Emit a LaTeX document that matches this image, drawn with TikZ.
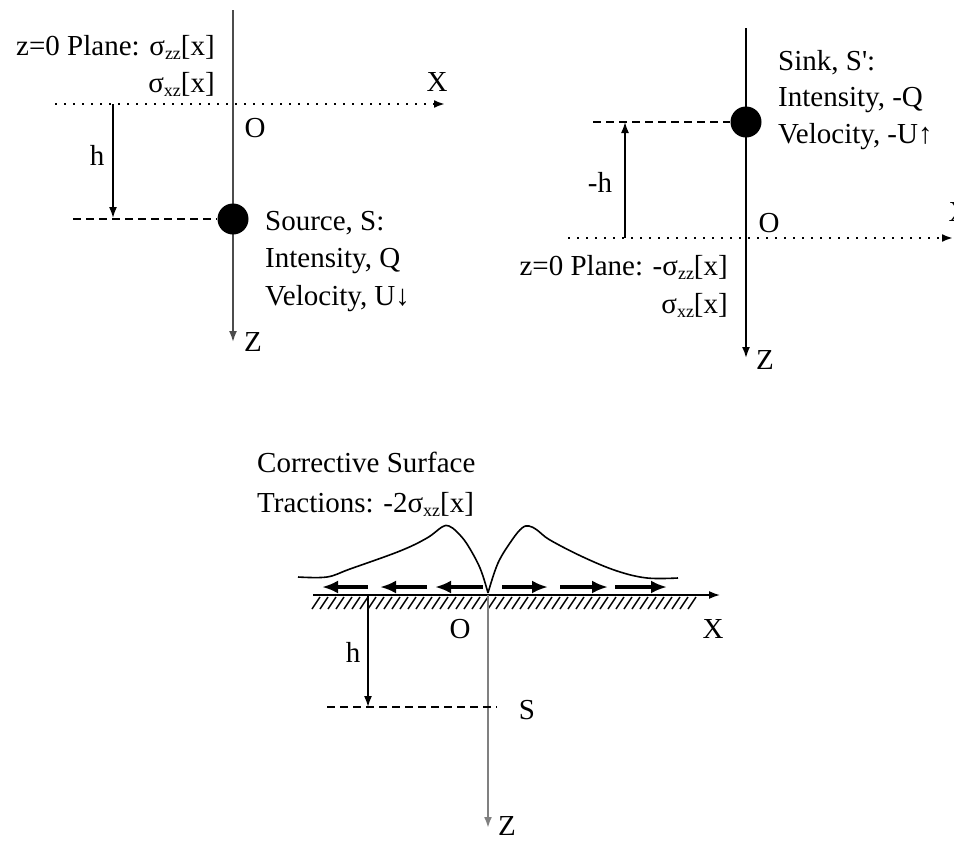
\documentclass[tikz,border=0pt]{standalone}
\usepackage{fontspec}
\setmainfont{Liberation Serif}
\newfontfamily\rawfont{Liberation Serif}
\usetikzlibrary{arrows.meta}
\newcommand\mysub[1]{\raisebox{-0.35ex}{\fontsize{18}{18}\selectfont #1}}
\begin{document}
\begin{tikzpicture}[x=1pt,y=-1pt,
 txt/.style={font=\fontsize{29}{37}\selectfont, inner sep=0pt},
 tip/.style={-{Latex[length=11pt,width=8pt]}},
 ax/.style={line width=1.8pt, draw=black!70, tip},
 dotax/.style={line width=2.6pt, dash pattern=on 2.4pt off 6.6pt, tip},
 dsh/.style={line width=1.4pt, dash pattern=on 8pt off 5pt},
 harrow/.style={line width=1.6pt, tip},
 dot/.style={circle, fill=black, minimum size=31pt, inner sep=0pt},
 trac/.style={line width=4pt, -{Latex[length=16pt,width=13pt]}},
 curve/.style={line width=1.6pt},
]
\useasboundingbox (0,0) rectangle (954,841);

% ---------- Panel 1 ----------
\coordinate (a1t) at (233,10);
\coordinate (a1b) at (233,342);
\coordinate (x1l) at (55,104);
\coordinate (x1r) at (445,104);
\coordinate (h1t) at (113,104);
\coordinate (h1b) at (113,218);
\coordinate (d1l) at (73,219);
\draw[ax] (a1t) -- (a1b);
\draw[dotax] (x1l) -- (x1r);
\node[dot] (src) at (233,219) {};
\draw[dsh] (d1l) -- (src.west);
\draw[harrow] (h1t) -- (h1b);
\node[txt, anchor=base east] (p1a) at (215,55) {z=0 Plane: σ\mysub{zz}[x]};
\node[txt, anchor=base east] (p1b) at (215,92) {σ\mysub{xz}[x]};
\node[txt] (p1X) at (437,82) {X};
\node[txt] (p1O) at (255,128) {O};
\node[txt] (p1h) at (97,155) {h};
\node[txt] (p1Z) at (253,342) {Z};
\node[txt, anchor=base west] (s1) at (265,230) {Source, S:};
\node[txt, anchor=base west] (s2) at (265,267) {Intensity, Q};
\node[txt, anchor=base west] (s3) at (265,305) {Velocity, U↓};

% ---------- Panel 2 ----------
\coordinate (a2t) at (746,28);
\coordinate (a2b) at (746,358);
\coordinate (x2l) at (568,238);
\coordinate (x2r) at (953,238);
\coordinate (h2b) at (625,238);
\coordinate (h2t) at (625,122);
\coordinate (d2l) at (593,122);
\draw[ax, draw=black] (a2t) -- (a2b);
\draw[dotax] (x2l) -- (x2r);
\node[dot] (sink) at (746,122) {};
\draw[dsh] (d2l) -- (sink.west);
\draw[harrow] (h2b) -- (h2t);
\node[txt] (p2h) at (600,182) {-h};
\node[txt] (p2O) at (769,223) {O};
\node[txt] (p2X) at (959,212) {X};
\node[txt] (p2Z) at (765,360) {Z};
\node[txt, anchor=base west] (k1) at (778,70) {Sink, S{\rawfont '}:};
\node[txt, anchor=base west] (k2) at (778,106) {Intensity, -Q};
\node[txt, anchor=base west] (k3) at (778,143) {Velocity, -U↑};
\node[txt, anchor=base east] (p2a) at (728,275) {z=0 Plane: -σ\mysub{zz}[x]};
\node[txt, anchor=base east] (p2b) at (728,313) {σ\mysub{xz}[x]};

% ---------- Panel 3 ----------
\node[txt, anchor=base west] (c1) at (257,472) {Corrective Surface};
\node[txt, anchor=base west] (c2) at (257,512) {Tractions: -2σ\mysub{xz}[x]};
\coordinate (sl) at (313,595);
\coordinate (sr) at (720,595);
\coordinate (vo) at (488,595);
\coordinate (vb) at (488,828);
\foreach \x in {312,320,...,690} \draw[line width=1.5pt] (\x,609) -- (\x+8,597);
\draw[harrow] (sl) -- (sr);
\draw[line width=2.6pt, draw=black!50, tip] (vo) -- (vb);
\draw[curve] plot[smooth, tension=0.6] coordinates {(298,577) (327,577) (350,569) (400,551) (427,538) (442,527) (449,526) (457,532) (467,544) (480,568) (488,593)};
\draw[curve] plot[smooth, tension=0.6] coordinates {(488,593) (498,563) (512,540) (522,528) (529,526) (537,530) (550,540) (583,557) (617,571) (647,578) (678,578)};
\coordinate (t1a) at (368,587); \coordinate (t1b) at (322,587);
\coordinate (t2a) at (427,587); \coordinate (t2b) at (380,587);
\coordinate (t3a) at (483,587); \coordinate (t3b) at (435,587);
\coordinate (t4a) at (502,587); \coordinate (t4b) at (548,587);
\coordinate (t5a) at (560,587); \coordinate (t5b) at (608,587);
\coordinate (t6a) at (615,587); \coordinate (t6b) at (667,587);
\foreach \i in {1,...,6} \draw[trac] (t\i a) -- (t\i b);
\coordinate (h3t) at (368,595);
\coordinate (h3b) at (368,707);
\coordinate (d3l) at (327,707);
\coordinate (d3r) at (497,707);
\draw[dsh] (d3l) -- (d3r);
\draw[harrow] (h3t) -- (h3b);
\node[txt] (p3O) at (460,629) {O};
\node[txt] (p3X) at (713,629) {X};
\node[txt] (p3h) at (353,652) {h};
\node[txt] (p3S) at (527,710) {S};
\node[txt] (p3Z) at (507,826) {Z};
\end{tikzpicture}
\end{document}
